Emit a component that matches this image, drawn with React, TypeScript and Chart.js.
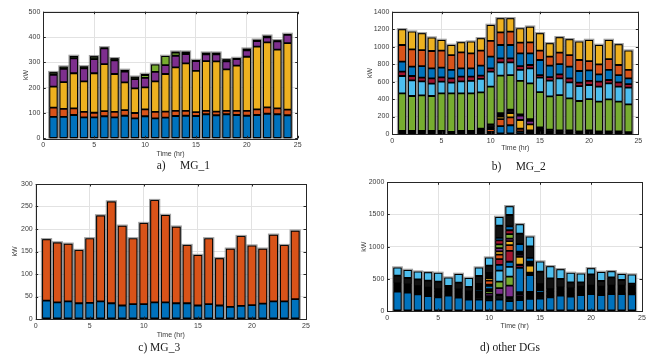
import React, { useEffect, useRef } from 'react';
import { Chart, registerables } from 'chart.js';
Chart.register(...registerables);

const HOURS = [1, 2, 3, 4, 5, 6, 7, 8, 9, 10, 11, 12, 13, 14, 15, 16, 17, 18, 19, 20, 21, 22, 23, 24];
const X_TICK_STEP = 5;

// ---- a) MG_1 ----
const A_BLUE = [85, 85, 92, 83, 83, 87, 83, 89, 79, 87, 79, 82, 88, 89, 88, 95, 91, 95, 92, 89, 92, 97, 95, 91];
const A_ORANGE = [36, 31, 26, 21, 18, 20, 21, 22, 21, 27, 25, 23, 20, 19, 15, 13, 14, 13, 16, 19, 22, 25, 23, 22];
const A_YELLOW = [83, 106, 139, 121, 156, 186, 150, 110, 97, 87, 121, 149, 172, 188, 163, 197, 199, 164, 179, 214, 248, 257, 232, 263];
const A_PURPLE = [47, 52, 59, 51, 56, 62, 54, 42, 37, 38, 37, 35, 46, 37, 39, 27, 28, 32, 26, 25, 22, 20, 33, 33];
const A_GREEN = [0, 0, 0, 0, 0, 0, 0, 0, 0, 11, 29, 36, 12, 5, 0, 0, 0, 0, 0, 0, 0, 0, 0, 0];
const A_DARK = [10, 9, 9, 8, 11, 4, 8, 7, 9, 4, 0, 0, 4, 4, 4, 6, 6, 8, 4, 7, 5, 6, 4, 3];

// ---- b) MG_2 ----
const B_BBLUE = [15, 15, 15, 15, 15, 10, 15, 15, 15, 25, 90, 100, 30, 25, 25, 15, 15, 15, 10, 15, 10, 10, 10, 5];
const B_BORANGE = [0, 0, 0, 0, 0, 0, 0, 0, 15, 30, 80, 90, 30, 15, 20, 10, 0, 0, 0, 0, 0, 0, 0, 0];
const B_BYELLOW = [0, 0, 0, 0, 0, 0, 0, 0, 10, 20, 30, 50, 100, 70, 10, 0, 0, 0, 0, 0, 0, 0, 0, 0];
const B_BPURPLE = [0, 0, 0, 0, 0, 0, 0, 0, 0, 0, 20, 0, 50, 40, 0, 0, 0, 0, 0, 0, 0, 0, 0, 0];
const B_BDARK = [20, 20, 20, 20, 20, 15, 20, 20, 20, 35, 20, 40, 15, 20, 20, 25, 25, 25, 20, 25, 20, 20, 20, 15];
const B_GREEN = [431, 400, 408, 400, 431, 441, 431, 431, 417, 432, 428, 395, 382, 410, 405, 380, 406, 368, 348, 360, 340, 367, 340, 320];
const B_LBLUE = [198, 179, 160, 141, 133, 121, 137, 141, 153, 171, 152, 145, 126, 172, 165, 180, 191, 183, 171, 161, 172, 183, 172, 190];
const B_DRED = [49, 50, 42, 61, 50, 50, 53, 49, 38, 39, 46, 46, 45, 38, 30, 40, 46, 46, 38, 46, 57, 38, 49, 42];
const B_BLUE = [115, 107, 133, 115, 110, 96, 96, 96, 114, 133, 153, 153, 145, 133, 172, 132, 118, 134, 134, 122, 84, 115, 84, 65];
const B_ORANGE = [191, 198, 183, 198, 195, 171, 183, 171, 172, 180, 145, 152, 122, 126, 107, 103, 130, 133, 126, 106, 114, 125, 115, 96];
const B_YELLOW = [179, 202, 191, 153, 122, 115, 114, 134, 141, 183, 160, 153, 164, 179, 198, 153, 176, 180, 210, 241, 222, 218, 236, 221];

// ---- c) MG_3 ----
const C_BLUE = [41, 37, 39, 35, 36, 39, 35, 30, 33, 33, 37, 37, 35, 35, 30, 33, 30, 27, 29, 31, 34, 39, 39, 44];
const C_ORANGE = [136, 133, 128, 118, 143, 191, 226, 177, 146, 180, 227, 194, 170, 129, 112, 146, 105, 129, 155, 132, 122, 148, 125, 152];

// ---- d) other DGs ----
const D_BASE = [300, 285, 259, 233, 212, 238, 207, 176, 176, 166, 176, 155, 171, 187, 192, 212, 238, 223, 249, 264, 249, 264, 264, 259];
const D_DK1 = [20, 20, 20, 20, 20, 20, 20, 20, 40, 40, 70, 40, 30, 30, 30, 20, 20, 20, 20, 20, 20, 20, 20, 20];
const D_OR1 = [15, 15, 15, 15, 15, 15, 15, 15, 20, 25, 10, 20, 20, 20, 15, 15, 15, 15, 15, 15, 15, 15, 15, 15];
const D_PU1 = [8, 8, 8, 8, 8, 8, 8, 8, 25, 40, 100, 180, 30, 20, 15, 8, 8, 8, 8, 8, 8, 8, 8, 8];
const D_GR1 = [8, 8, 8, 8, 8, 8, 8, 8, 20, 40, 100, 140, 20, 20, 15, 8, 8, 8, 8, 8, 8, 8, 8, 8];
const D_LB1 = [8, 8, 8, 8, 8, 8, 8, 8, 20, 30, 170, 150, 20, 20, 15, 8, 8, 8, 8, 8, 8, 8, 8, 8];
const D_BL2 = [8, 8, 8, 8, 8, 8, 8, 8, 30, 50, 90, 80, 380, 260, 40, 8, 8, 8, 8, 8, 8, 8, 8, 8];
const D_DR1 = [10, 10, 10, 10, 10, 10, 10, 10, 15, 20, 90, 170, 40, 20, 15, 10, 10, 10, 10, 10, 10, 10, 10, 10];
const D_OR2 = [8, 8, 8, 8, 8, 8, 8, 8, 15, 60, 70, 90, 10, 20, 15, 8, 8, 8, 8, 8, 8, 8, 8, 8];
const D_YE1 = [12, 12, 12, 12, 12, 12, 12, 12, 20, 40, 50, 60, 120, 110, 25, 12, 12, 12, 12, 12, 12, 12, 12, 12];
const D_PU2 = [8, 8, 8, 8, 8, 8, 8, 8, 10, 20, 50, 40, 30, 20, 10, 8, 8, 8, 8, 8, 8, 8, 8, 8];
const D_GR2 = [8, 8, 8, 8, 8, 8, 8, 8, 10, 20, 60, 70, 30, 20, 10, 8, 8, 8, 8, 8, 8, 8, 8, 8];
const D_DR2 = [8, 8, 8, 8, 8, 8, 8, 8, 10, 20, 60, 60, 20, 20, 10, 8, 8, 8, 8, 8, 8, 8, 8, 8];
const D_BL3 = [8, 8, 8, 8, 8, 8, 8, 8, 10, 20, 40, 60, 120, 60, 10, 8, 8, 8, 8, 8, 8, 8, 8, 8];
const D_DK2 = [120, 99, 104, 109, 115, 22, 104, 68, 123, 114, 190, 177, 162, 178, 194, 167, 130, 94, 68, 177, 88, 130, 89, 37];
const D_TOP = [125, 124, 119, 130, 135, 129, 135, 140, 130, 124, 135, 135, 145, 150, 156, 186, 151, 145, 134, 93, 140, 94, 93, 140];

const C = {
  blue: '#0072BD', orange: '#D95319', yellow: '#EDB120', purple: '#7E2F8E',
  green: '#77AC30', lblue: '#4DBEEE', dred: '#A2142F', dark: '#111111', olive: '#2b3a1f',
};

type Series = { label: string; color: string; data: number[] };
type Layout = { plotLeft: number; plotRight: number; plotTop: number; plotBottom: number; ylabX: number; xlabY: number };

const boxPlugin = {
  id: 'matlabBox',
  beforeDatasetsDraw(chart: any) {
    const { ctx, chartArea, scales } = chart;
    const xs = scales.x, ys = scales.y;
    const unit = xs.getPixelForValue(1) - xs.getPixelForValue(0);
    const bw = unit * 0.4;
    const hw = bw + 1.3;
    const n = chart.data.datasets[0].data.length;
    ctx.save();
    for (let i = 0; i < n; i++) {
      let total = 0;
      chart.data.datasets.forEach((d: any) => { total += d.data[i].y; });
      const x = xs.getPixelForValue(chart.data.datasets[0].data[i].x);
      const top = ys.getPixelForValue(total);
      ctx.fillStyle = 'rgba(120,120,120,0.7)';
      ctx.fillRect(x - hw, top - 1.3, hw * 2, chartArea.bottom - top + 1.3);
      ctx.fillStyle = '#000';
      ctx.fillRect(x - bw, top, bw * 2, chartArea.bottom - top);
    }
    ctx.restore();
  },
  afterDraw(chart: any) {
    const { ctx, chartArea: a, scales } = chart;
    ctx.save();
    ctx.strokeStyle = '#262626';
    ctx.lineWidth = 1;
    ctx.strokeRect(Math.round(a.left) + 0.5, Math.round(a.top) + 0.5, Math.round(a.right - a.left), Math.round(a.bottom - a.top));
    const tl = 2.5;
    ctx.beginPath();
    scales.x.ticks.forEach((t: any) => {
      const x = Math.round(scales.x.getPixelForValue(t.value)) + 0.5;
      ctx.moveTo(x, a.bottom); ctx.lineTo(x, a.bottom - tl);
      ctx.moveTo(x, a.top); ctx.lineTo(x, a.top + tl);
    });
    scales.y.ticks.forEach((t: any) => {
      const y = Math.round(scales.y.getPixelForValue(t.value)) + 0.5;
      ctx.moveTo(a.left, y); ctx.lineTo(a.left + tl, y);
      ctx.moveTo(a.right, y); ctx.lineTo(a.right - tl, y);
    });
    ctx.stroke();
    ctx.restore();
  },
};

function Panel({ layout, series, yMax, yStep }: { layout: Layout; series: Series[]; yMax: number; yStep: number }) {
  const ref = useRef<HTMLCanvasElement>(null);
  const canvasLeft = Math.floor(layout.plotLeft - 34);
  const canvasTop = Math.floor(layout.plotTop - 8);
  const W = layout.plotLeft - canvasLeft;
  const T = layout.plotTop - canvasTop;
  const width = Math.ceil(layout.plotRight + 10 - canvasLeft);
  const height = Math.ceil(layout.plotBottom + 24 - canvasTop);
  const R = width - (layout.plotRight - canvasLeft);
  const Hx = height - (layout.plotBottom - canvasTop);
  const FS = 7;
  const LH = FS * 1.2;
  const yPadTop = layout.ylabX - canvasLeft - LH / 2;
  const xPadBottom = canvasTop + height - LH / 2 - layout.xlabY;

  useEffect(() => {
    if (!ref.current) return;
    const font = { size: FS, family: '"Liberation Sans", Arial, sans-serif' };
    const chart = new Chart(ref.current, {
      type: 'bar',
      data: {
        datasets: series.map((s) => ({
          label: s.label,
          data: HOURS.map((h, i) => ({ x: h, y: s.data[i] })),
          backgroundColor: s.color,
          borderColor: '#000',
          borderWidth: 0.9,
          borderSkipped: false,
          barPercentage: 0.8,
          categoryPercentage: 1,
        })),
      },
      options: {
        responsive: false,
        animation: false,
        devicePixelRatio: 1,
        layout: { padding: { top: T, right: R, left: 0, bottom: 0 } },
        plugins: { legend: { display: false }, tooltip: { enabled: false } },
        scales: {
          x: {
            type: 'linear', min: 0, max: 25, stacked: true, offset: false,
            ticks: { stepSize: X_TICK_STEP, font, color: '#3a3a3a', padding: 3, maxRotation: 0, callback: (v: any) => String(v) },
            grid: { color: '#e2e2e2', lineWidth: 1, drawTicks: false, offset: false },
            border: { display: false },
            title: { display: true, text: 'Time (hr)', font, color: '#3a3a3a', padding: { top: 0, bottom: xPadBottom } },
            afterFit: (s: any) => { s.height = Hx; },
          },
          y: {
            type: 'linear', min: 0, max: yMax, stacked: true,
            ticks: { stepSize: yStep, font, color: '#3a3a3a', padding: 3, callback: (v: any) => String(v) },
            grid: { color: '#e2e2e2', lineWidth: 1, drawTicks: false },
            border: { display: false },
            title: { display: true, text: 'kW', font, color: '#3a3a3a', padding: { top: yPadTop, bottom: 0 } },
            afterFit: (s: any) => { s.width = W; },
          },
        },
      } as any,
      plugins: [boxPlugin],
    });
    return () => chart.destroy();
  }, []);

  return (
    <canvas
      ref={ref}
      width={width}
      height={height}
      style={{ position: 'absolute', left: canvasLeft, top: canvasTop, width, height }}
    />
  );
}

const SERIES_A: Series[] = [
  { label: 'DG1', color: C.blue, data: A_BLUE },
  { label: 'DG2', color: C.orange, data: A_ORANGE },
  { label: 'PV', color: C.yellow, data: A_YELLOW },
  { label: 'WT', color: C.purple, data: A_PURPLE },
  { label: 'ESS', color: C.green, data: A_GREEN },
  { label: 'Other', color: C.olive, data: A_DARK },
];

const SERIES_B: Series[] = [
  { label: 'b1', color: C.blue, data: B_BBLUE },
  { label: 'b2', color: C.orange, data: B_BORANGE },
  { label: 'b3', color: C.yellow, data: B_BYELLOW },
  { label: 'b4', color: C.purple, data: B_BPURPLE },
  { label: 'b5', color: C.dark, data: B_BDARK },
  { label: 'b6', color: C.green, data: B_GREEN },
  { label: 'b7', color: C.lblue, data: B_LBLUE },
  { label: 'b8', color: C.dred, data: B_DRED },
  { label: 'b9', color: C.blue, data: B_BLUE },
  { label: 'b10', color: C.orange, data: B_ORANGE },
  { label: 'b11', color: C.yellow, data: B_YELLOW },
];

const SERIES_C: Series[] = [
  { label: 'c1', color: C.blue, data: C_BLUE },
  { label: 'c2', color: C.orange, data: C_ORANGE },
];

const SERIES_D: Series[] = [
  { label: 'd0', color: C.blue, data: D_BASE },
  { label: 'd1', color: C.dark, data: D_DK1 },
  { label: 'd2', color: C.orange, data: D_OR1 },
  { label: 'd3', color: C.purple, data: D_PU1 },
  { label: 'd4', color: C.green, data: D_GR1 },
  { label: 'd5', color: C.lblue, data: D_LB1 },
  { label: 'd6', color: C.blue, data: D_BL2 },
  { label: 'd7', color: C.dred, data: D_DR1 },
  { label: 'd8', color: C.orange, data: D_OR2 },
  { label: 'd9', color: C.yellow, data: D_YE1 },
  { label: 'd10', color: C.purple, data: D_PU2 },
  { label: 'd11', color: C.green, data: D_GR2 },
  { label: 'd12', color: C.dred, data: D_DR2 },
  { label: 'd13', color: C.blue, data: D_BL3 },
  { label: 'd14', color: C.dark, data: D_DK2 },
  { label: 'd15', color: C.lblue, data: D_TOP },
];

const LAYOUT_A: Layout = { plotLeft: 43.3, plotRight: 297.7, plotTop: 11.7, plotBottom: 138.3, ylabX: 26, xlabY: 153.7 };
const LAYOUT_B: Layout = { plotLeft: 392.3, plotRight: 638.3, plotTop: 11.7, plotBottom: 134, ylabX: 370, xlabY: 148.3 };
const LAYOUT_C: Layout = { plotLeft: 35.7, plotRight: 306, plotTop: 184, plotBottom: 319, ylabX: 15, xlabY: 335 };
const LAYOUT_D: Layout = { plotLeft: 387.3, plotRight: 642, plotTop: 182.3, plotBottom: 311, ylabX: 364.3, xlabY: 325.7 };

const captionStyle = (left: number, cy: number): React.CSSProperties => ({
  position: 'absolute', left, top: cy - 7, lineHeight: '14px', fontSize: 11.5,
  fontFamily: '"Liberation Serif", "Times New Roman", serif', color: '#1a1a1a', whiteSpace: 'pre',
});

export default function App() {
  return (
    <div style={{ position: 'fixed', left: 0, top: 0, width: 654, height: 360, background: '#fff', overflow: 'hidden' }}>
      <Panel layout={LAYOUT_A} series={SERIES_A} yMax={500} yStep={100} />
      <Panel layout={LAYOUT_B} series={SERIES_B} yMax={1400} yStep={200} />
      <Panel layout={LAYOUT_C} series={SERIES_C} yMax={300} yStep={50} />
      <Panel layout={LAYOUT_D} series={SERIES_D} yMax={2000} yStep={500} />
      <div style={captionStyle(156.7, 165)}>{'a)     MG_1'}</div>
      <div style={captionStyle(491.7, 165.7)}>{'b)     MG_2'}</div>
      <div style={captionStyle(138.3, 347)}>{'c) MG_3'}</div>
      <div style={captionStyle(480, 347)}>{'d) other DGs'}</div>
    </div>
  );
}
